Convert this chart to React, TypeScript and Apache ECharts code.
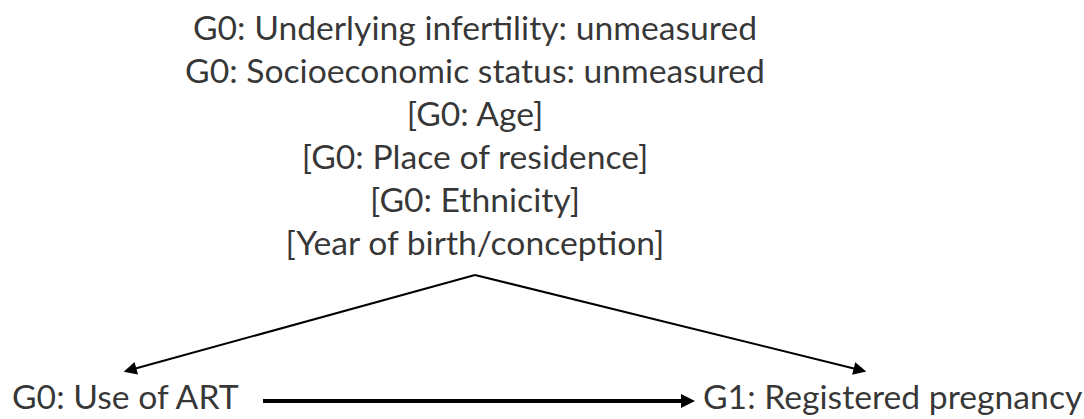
import React, { useEffect, useRef } from "react";
import * as echarts from "echarts";

// Node labels
const confounderLines = [
  "G0: Underlying infertility: unmeasured",
  "G0: Socioeconomic status: unmeasured",
  "[G0: Age]",
  "[G0: Place of residence]",
  "[G0: Ethnicity]",
  "[Year of birth/conception]",
];
const exposureLabel = "G0: Use of ART";
const outcomeLabel = "G1: Registered pregnancy";

// Layout (diagram coordinates, pixel-like units)
const confounderX = 475;
const confounderLineY = [27, 70, 113, 156, 199, 242];
const exposurePos = [12, 396];
const outcomePos = [703, 396];
const apex = [475, 275];
const exposureArrowTip = [130, 370];
const outcomeArrowTip = [860, 370];
const mainArrowStart = [263, 401];
const mainArrowEnd = [688, 401];

export default function App() {
  const ref = useRef<HTMLDivElement>(null);
  useEffect(() => {
    document.body.style.margin = "0";
    if (!ref.current) return;
    const chart = echarts.init(ref.current, undefined, { renderer: "svg" });
    const font = "Lato";
    const fontSize = 33.7;
    const centeredData = confounderLines.map((t, i) => ({
      name: t,
      value: [confounderX, confounderLineY[i]],
    }));
    chart.setOption({
      animation: false,
      backgroundColor: "#ffffff",
      grid: { left: 0, right: 0, top: 0, bottom: 0 },
      xAxis: { type: "value", min: 0, max: 1084, show: false },
      yAxis: { type: "value", min: 0, max: 419, inverse: true, show: false },
      series: [
        {
          type: "scatter",
          symbolSize: 0,
          data: centeredData,
          label: {
            show: true,
            position: "inside",
            formatter: "{b}",
            color: "#000",
            fontFamily: font,
            fontSize,
            align: "center",
            verticalAlign: "middle",
          },
        },
        {
          type: "scatter",
          symbolSize: 0,
          data: [
            { name: exposureLabel, value: exposurePos },
            { name: outcomeLabel, value: outcomePos },
          ],
          label: {
            show: true,
            position: "inside",
            formatter: "{b}",
            color: "#000",
            fontFamily: font,
            fontSize,
            align: "left",
            verticalAlign: "middle",
          },
        },
        {
          type: "lines",
          coordinateSystem: "cartesian2d",
          symbol: ["none", "triangle"],
          symbolSize: [10, 13],
          lineStyle: { color: "#000", width: 2, opacity: 1 },
          data: [
            { coords: [apex, exposureArrowTip] },
            { coords: [apex, outcomeArrowTip] },
          ],
        },
        {
          type: "lines",
          coordinateSystem: "cartesian2d",
          symbol: ["none", "triangle"],
          symbolSize: [12, 14],
          lineStyle: { color: "#000", width: 4, opacity: 1 },
          data: [{ coords: [mainArrowStart, mainArrowEnd] }],
        },
      ],
    });
    return () => chart.dispose();
  }, []);
  return <div ref={ref} style={{ width: 1084, height: 419 }} />;
}
